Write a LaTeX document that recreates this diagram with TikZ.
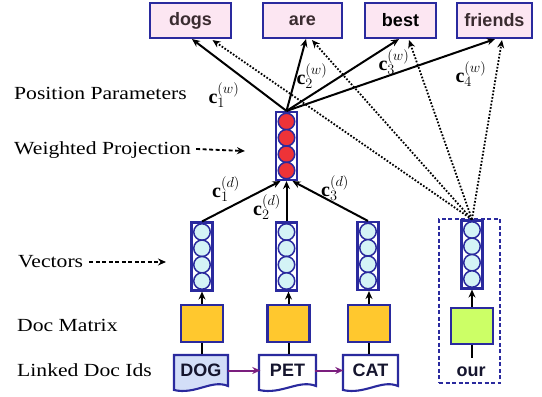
\documentclass[tikz,border=0pt]{standalone}
\usepackage{graphicx}
\usepackage{fontspec}
\setmainfont{Liberation Serif}
\newfontfamily\boxfont{Liberation Sans}
\usetikzlibrary{arrows.meta}
\definecolor{bord}{HTML}{2A2A9E}
\definecolor{wordpink}{HTML}{FCE6F2}
\definecolor{wordtxt}{HTML}{3A2C30}
\definecolor{redcell}{HTML}{EE3338}
\definecolor{cyancell}{HTML}{D4F3F6}
\definecolor{orangebox}{HTML}{FFC82E}
\definecolor{greenbox}{HTML}{CCFF66}
\definecolor{dogblue}{HTML}{D3DEF8}
\definecolor{linkpurple}{HTML}{7B1E7E}
\definecolor{idtxt}{HTML}{15152E}
\tikzset{
 wordbox/.style={draw=bord, fill=wordpink, line width=2.1pt, minimum height=35pt, font=\boxfont\fontsize{18}{20}\selectfont\bfseries, text=wordtxt, inner sep=0},
 vbox/.style={draw=bord, line width=2.1pt, minimum width=21pt, minimum height=68pt, inner sep=0},
 cell/.style={circle, draw=bord, line width=1.5pt, minimum size=16.5pt, inner sep=0},
 matbox/.style={draw=bord, line width=2.1pt, minimum width=42pt, minimum height=37pt, inner sep=0},
 idtext/.style={font=\boxfont\fontsize{18}{20}\selectfont\bfseries, text=idtxt, inner sep=0, minimum width=54pt, minimum height=33pt},
 lab/.style={anchor=west, font=\fontsize{18.5}{20}\selectfont, inner sep=0},
 mlab/.style={font=\fontsize{20}{22}\selectfont, inner sep=0},
 arr/.style={-{Stealth[length=8pt,width=7pt]}, line width=2pt},
 dotarr/.style={dash pattern=on 1.7pt off 1.7pt, line width=1.8pt, -{Stealth[length=8pt,width=7pt,open]}},
 dasharr/.style={dash pattern=on 4pt off 2.5pt, line width=1.8pt, -{Stealth[length=8pt,width=7pt]}},
 plain/.style={line width=2pt},
 linkarr/.style={draw=linkpurple, line width=2pt, -{Stealth[length=8pt,width=7pt]}}
}
\newcommand\wideT[1]{\scalebox{1.17}[1]{#1}}
\newcommand\mkvec[4]{%
 \node[vbox] (#1) at (#2,#3) {};
 \foreach \i/\dy in {1/-24.5,2/-8.2,3/8.2,4/24.5} \node[cell, fill=#4] (#1c\i) at (#2,#3+\dy) {};
}
\newcommand\mkdoc[7]{%
 \filldraw[draw=bord, fill=#6, line width=2.1pt] (#2,#4) -- (#3,#4) -- (#3,#5-4) .. controls ({#3-0.3*(#3-#2)},#5-11) and ({#2+0.4*(#3-#2)},#5+5) .. (#2,#5) -- cycle;
 \node[idtext] (#1) at ({(#2+#3)/2},{(#4+#5)/2-2}) {#7};
}
\begin{document}
\begin{tikzpicture}[x=1pt,y=-1pt]
\useasboundingbox (0,0) rectangle (542,397);
% top word boxes
\node[wordbox, minimum width=81pt] (dogs) at (190.5,20.5) {dogs};
\node[wordbox, minimum width=79pt] (are) at (302.5,20.5) {are};
\node[wordbox, minimum width=71pt, text=black] (best) at (400.5,20.5) {best};
\node[wordbox, minimum width=75pt] (friends) at (494.5,20.5) {friends};
% weighted projection
\mkvec{proj}{286.5}{146}{redcell}
% vectors
\mkvec{va}{202}{256.5}{cyancell}
\mkvec{vb}{286.5}{256.5}{cyancell}
\mkvec{vc}{368}{256}{cyancell}
\mkvec{vd}{472}{254.5}{cyancell}
% doc matrix
\node[matbox, fill=orangebox] (ma) at (202,323.5) {};
\node[matbox, fill=orangebox] (mb) at (288.5,323.5) {};
\node[matbox, fill=orangebox] (mc) at (369,323.5) {};
\node[matbox, fill=greenbox, minimum height=36pt] (md) at (472,326) {};
% doc ids
\mkdoc{dog}{174}{228}{355}{390}{dogblue}{DOG}
\mkdoc{pet}{259}{316}{355}{390}{white}{PET}
\mkdoc{cat}{343}{398}{355}{390}{white}{CAT}
\node[font=\boxfont\fontsize{18}{20}\selectfont\bfseries, text=idtxt, inner sep=0] (our) at (471,372) {our};
\node[draw=bord, dash pattern=on 4pt off 2.5pt, line width=2pt, minimum width=61pt, minimum height=164pt, inner sep=0] (grp) at (469.5,301) {};
% connections bottom
\draw[plain] (ma.south) -- (ma.south |- dog.north);
\draw[plain] (mb.south) -- (mb.south |- pet.north);
\draw[plain] (mc.south) -- (mc.south |- cat.north);
\coordinate (ourtop) at (472,358);
\draw[plain] (md.south) -- (ourtop);
\draw[arr] (ma.north) -- (va.south);
\draw[arr] (mb.north) -- (mb.north |- vb.south);
\draw[arr] (mc.north) -- (mc.north |- vc.south);
\draw[arr] (md.north) -- (vd.south);
\draw[linkarr] (dog.east) -- (pet.west);
\draw[linkarr] (pet.east) -- (cat.west);
% vectors to projection
\draw[arr] (va.north) -- ([xshift=-6pt]proj.south);
\draw[arr] (vb.north) -- (proj.south);
\draw[arr] (vc.north) -- ([xshift=6pt]proj.south);
% projection to words
\draw[arr] (proj.north) -- ([xshift=1.5pt]dogs.south);
\draw[arr] (proj.north) -- ([xshift=3.5pt]are.south);
\draw[arr] (proj.north) -- ([xshift=-1.5pt]best.south);
\draw[arr] (proj.north) -- ([xshift=0.5pt]friends.south);
% context word to words
\draw[dotarr] (vd.north) -- ([xshift=22pt,yshift=-1pt]dogs.south);
\draw[dotarr] (vd.north) -- ([xshift=9.5pt,yshift=-1pt]are.south);
\draw[dotarr] (vd.north) -- ([xshift=8.5pt,yshift=-1pt]best.south);
\draw[dotarr] (vd.north) -- ([xshift=7.5pt,yshift=-1pt]friends.south);
% parameter labels
\node[mlab] (cw1) at (224,95) {$\mathbf{c}_1^{(w)}$};
\node[mlab] (cw2) at (312,76) {$\mathbf{c}_2^{(w)}$};
\node[mlab] (cw3) at (394,62) {$\mathbf{c}_3^{(w)}$};
\node[mlab] (cw4) at (471,74) {$\mathbf{c}_4^{(w)}$};
\node[mlab] (cd1) at (226,189) {$\mathbf{c}_1^{(d)}$};
\node[mlab] (cd2) at (267,207) {$\mathbf{c}_2^{(d)}$};
\node[mlab] (cd3) at (335,188) {$\mathbf{c}_3^{(d)}$};
% left labels
\node[lab] (lpos) at (14,93) {\wideT{Position Parameters}};
\node[lab] (lproj) at (14,150) {\wideT{Weighted Projection}};
\node[lab] (lvec) at (18,262) {\wideT{Vectors}};
\node[lab] (lmat) at (17,325) {\wideT{Doc Matrix}};
\node[lab] (lids) at (17,370) {\wideT{Linked Doc Ids}};
\coordinate (projtip) at (245,151);
\coordinate (vectip) at (166,262);
\draw[dasharr] ([xshift=5pt,yshift=1pt]lproj.east) -- (projtip);
\draw[dasharr] ([xshift=6pt]lvec.east) -- (vectip);
\end{tikzpicture}
\end{document}
